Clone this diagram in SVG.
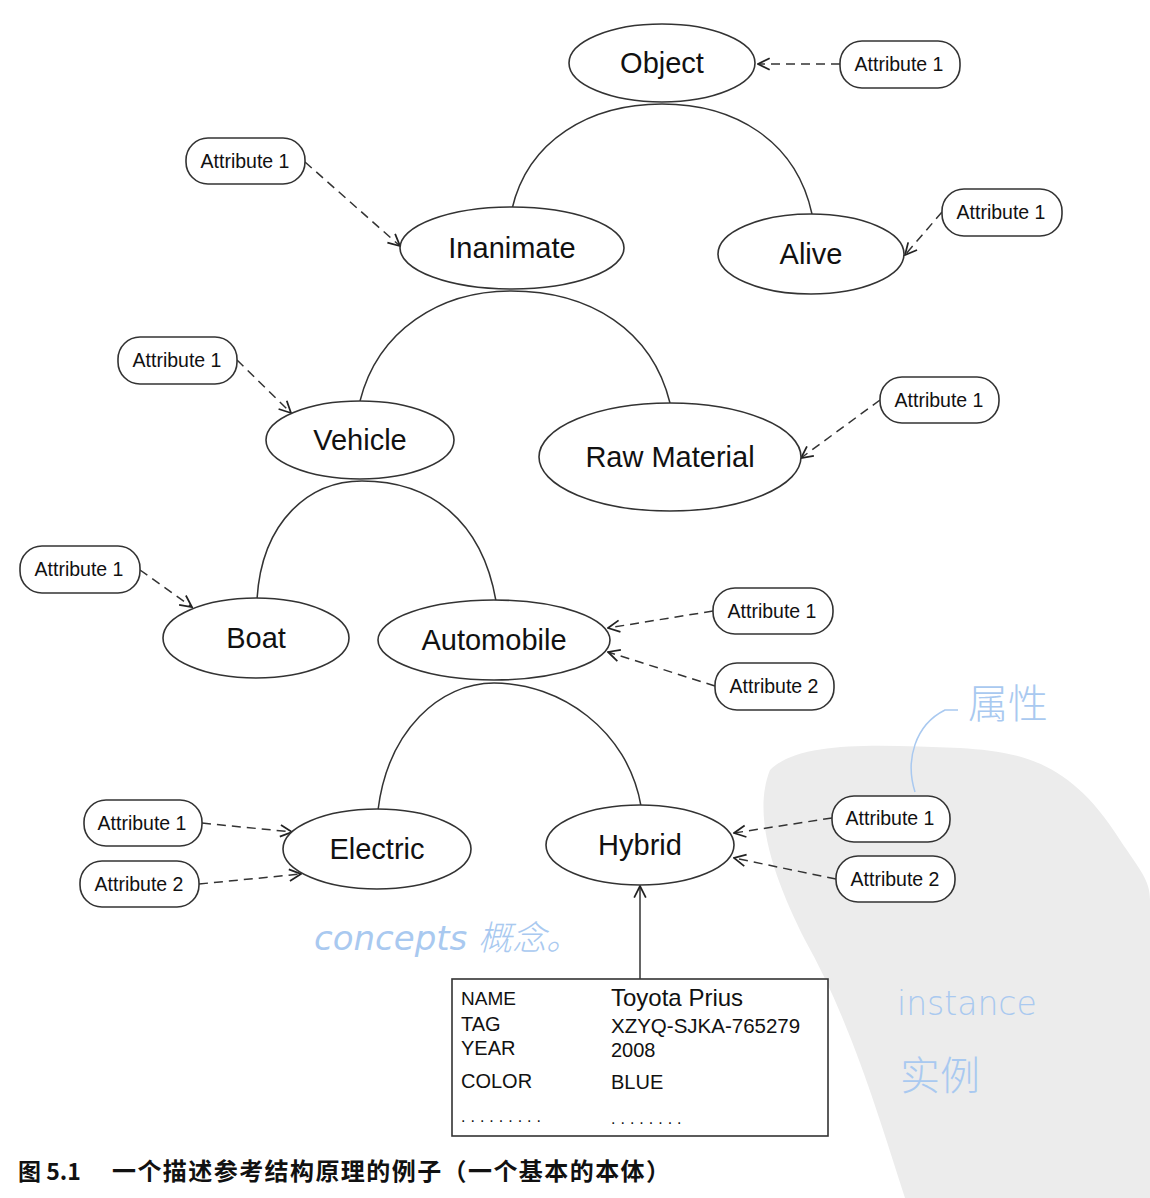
<svg xmlns="http://www.w3.org/2000/svg" width="1150" height="1198" viewBox="0 0 1150 1198">
<defs>
<marker id="open" viewBox="0 0 12 12" refX="11" refY="6" markerWidth="14" markerHeight="14" markerUnits="userSpaceOnUse" orient="auto">
<path d="M1,1 L11,6 L1,11" fill="none" stroke="#222" stroke-width="1.5"/>
</marker>
<style>
.node ellipse{fill:#fff;stroke:#333;stroke-width:1.6}
.lbl{font-family:"Liberation Sans",Arial,sans-serif;font-size:29px;fill:#111;text-anchor:middle;dominant-baseline:central}
.attr rect{fill:#fff;stroke:#333;stroke-width:1.6}
.attr text{font-family:"Liberation Sans",Arial,sans-serif;font-size:19.5px;fill:#111;text-anchor:middle;dominant-baseline:central}
.arc{fill:none;stroke:#333;stroke-width:1.5}
.dash{fill:none;stroke:#333;stroke-width:1.5;stroke-dasharray:9 6;marker-end:url(#open)}
.solid{fill:none;stroke:#333;stroke-width:1.5;marker-end:url(#open)}
.inst{font-family:"Liberation Sans",Arial,sans-serif;fill:#111}
.hand{font-family:"DejaVu Sans","Noto Sans CJK SC",sans-serif;fill:#a9c9f0;font-weight:200}
</style>
</defs>
<rect width="1150" height="1198" fill="#fff"/>
<g id="watermark">
<path d="M770,770 C800,740 880,745 960,748 C1020,752 1070,760 1120,840 C1140,870 1150,880 1150,900 L1150,1198 L905,1198 C880,1120 850,1020 805,940 C780,890 750,820 770,770 Z" fill="#ececec"/>
</g>
<g id="connectors">
<path class="arc" d="M512,209 C528,140 590,104 662,104 C734,104 796,140 812,214"/>
<path class="arc" d="M360,401 C378,330 440,291 511,291 C590,291 652,330 670,403"/>
<path class="arc" d="M257,599 C262,520 310,481 362,481 C430,481 482,520 496,601"/>
<path class="arc" d="M378,810 C388,730 440,683 494,683 C560,683 628,730 641,806"/>
<path class="dash" d="M840,64 L758,64"/>
<path class="dash" d="M305,162 L400,246"/>
<path class="dash" d="M942,212 L905,255"/>
<path class="dash" d="M237,360 L291,413"/>
<path class="dash" d="M880,400 L801,458"/>
<path class="dash" d="M140,570 L192,607"/>
<path class="dash" d="M713,611 L608,628"/>
<path class="dash" d="M715,686 L608,652"/>
<path class="dash" d="M202,823 L292,832"/>
<path class="dash" d="M199,884 L301,874"/>
<path class="dash" d="M832,818 L734,833"/>
<path class="dash" d="M836,879 L734,858"/>
<path class="solid" d="M640,979 L640,886"/>
</g>
<g id="n-object" class="node"><ellipse cx="662" cy="63" rx="93" ry="39"/><text class="lbl" x="662" y="63">Object</text></g>
<g id="n-inanimate" class="node"><ellipse cx="512" cy="248" rx="112" ry="41"/><text class="lbl" x="512" y="248">Inanimate</text></g>
<g id="n-alive" class="node"><ellipse cx="811" cy="254" rx="93" ry="40"/><text class="lbl" x="811" y="254">Alive</text></g>
<g id="n-vehicle" class="node"><ellipse cx="360" cy="440" rx="94" ry="39"/><text class="lbl" x="360" y="440">Vehicle</text></g>
<g id="n-raw" class="node"><ellipse cx="670" cy="457" rx="131" ry="54"/><text class="lbl" x="670" y="457">Raw Material</text></g>
<g id="n-boat" class="node"><ellipse cx="256" cy="638" rx="93" ry="40"/><text class="lbl" x="256" y="638">Boat</text></g>
<g id="n-automobile" class="node"><ellipse cx="494" cy="640" rx="116" ry="40"/><text class="lbl" x="494" y="640">Automobile</text></g>
<g id="n-electric" class="node"><ellipse cx="377" cy="849" rx="94" ry="40"/><text class="lbl" x="377" y="849">Electric</text></g>
<g id="n-hybrid" class="node"><ellipse cx="640" cy="845" rx="94" ry="40"/><text class="lbl" x="640" y="845">Hybrid</text></g>
<g id="a-object1" class="attr"><rect x="840" y="41" width="120" height="47" rx="22"/><text x="899" y="64">Attribute 1</text></g>
<g id="a-inanimate1" class="attr"><rect x="186" y="138" width="119" height="46" rx="22"/><text x="245" y="161">Attribute 1</text></g>
<g id="a-alive1" class="attr"><rect x="942" y="189" width="120" height="47" rx="22"/><text x="1001" y="212">Attribute 1</text></g>
<g id="a-vehicle1" class="attr"><rect x="118" y="337" width="119" height="47" rx="22"/><text x="177" y="360">Attribute 1</text></g>
<g id="a-raw1" class="attr"><rect x="880" y="377" width="119" height="46" rx="22"/><text x="939" y="400">Attribute 1</text></g>
<g id="a-boat1" class="attr"><rect x="20" y="546" width="120" height="47" rx="22"/><text x="79" y="569">Attribute 1</text></g>
<g id="a-auto1" class="attr"><rect x="713" y="588" width="120" height="46" rx="22"/><text x="772" y="611">Attribute 1</text></g>
<g id="a-auto2" class="attr"><rect x="715" y="663" width="119" height="47" rx="22"/><text x="774" y="686">Attribute 2</text></g>
<g id="a-electric1" class="attr"><rect x="84" y="800" width="118" height="46" rx="22"/><text x="142" y="823">Attribute 1</text></g>
<g id="a-electric2" class="attr"><rect x="80" y="861" width="119" height="46" rx="22"/><text x="139" y="884">Attribute 2</text></g>
<g id="a-hybrid1" class="attr"><rect x="832" y="796" width="118" height="46" rx="22"/><text x="890" y="818">Attribute 1</text></g>
<g id="a-hybrid2" class="attr"><rect x="836" y="856" width="119" height="46" rx="22"/><text x="895" y="879">Attribute 2</text></g>
<g id="instance">
<rect x="452" y="979" width="376" height="157" fill="#fff" stroke="#333" stroke-width="1.6"/>
<text class="inst" x="461" y="1005" font-size="19">NAME</text>
<text class="inst" x="611" y="1006" font-size="24">Toyota Prius</text>
<text class="inst" x="461" y="1031" font-size="20">TAG</text>
<text class="inst" x="611" y="1033" font-size="20.5">XZYQ-SJKA-765279</text>
<text class="inst" x="461" y="1055" font-size="20">YEAR</text>
<text class="inst" x="611" y="1057" font-size="20">2008</text>
<text class="inst" x="461" y="1088" font-size="20">COLOR</text>
<text class="inst" x="611" y="1089" font-size="20">BLUE</text>
<text class="inst" x="461" y="1122" font-size="16" letter-spacing="5">.........</text>
<text class="inst" x="611" y="1124" font-size="16" letter-spacing="5">........</text>
</g>
<g id="annotations">
<text class="hand" x="314" y="950" font-size="34" font-style="italic">concepts 概念。</text>
<text class="hand" x="968" y="718" font-size="40">属性</text>
<path d="M915,792 C905,760 915,725 945,710 L958,710" fill="none" stroke="#a9c9f0" stroke-width="1.5"/>
<text class="hand" x="897" y="1015" font-size="33">instance</text>
<text class="hand" x="900" y="1090" font-size="40">实例</text>
</g>
<g id="caption" font-family="'Noto Sans CJK SC','Liberation Sans',sans-serif" font-weight="bold" fill="#111">
<text x="18" y="1180" font-size="23">图 5.1</text>
<text x="112" y="1180" font-size="24" textLength="558" lengthAdjust="spacing">一个描述参考结构原理的例子（一个基本的本体）</text>
</g>
</svg>
